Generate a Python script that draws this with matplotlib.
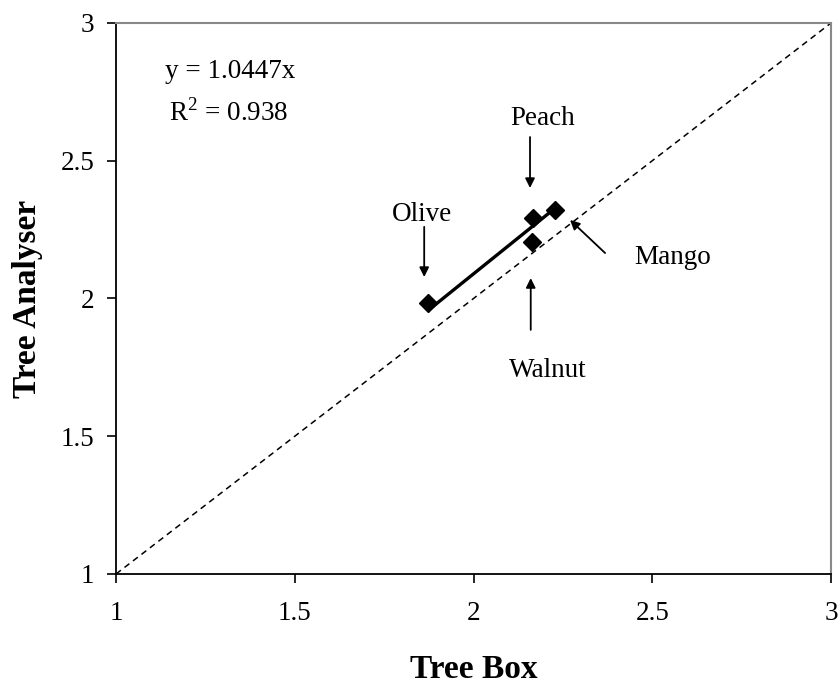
import matplotlib.pyplot as plt
import numpy as np

plt.rcParams['font.family'] = ['Liberation Serif', 'DejaVu Serif']
plt.rcParams['mathtext.fontset'] = 'custom'
plt.rcParams['mathtext.rm'] = 'Liberation Serif'

# data
tree_names = ["Olive", "Peach", "Walnut", "Mango"]
tree_box = [1.874, 2.167, 2.163, 2.228]
tree_analyser = [1.985, 2.293, 2.206, 2.321]
slope = 1.0447
r2 = 0.938

# label positions (text baseline xy, arrow tail, arrow head) in data units
label_xy = {"Olive": (1.856, 2.281), "Peach": (2.192, 2.630),
            "Walnut": (2.208, 1.715), "Mango": (2.558, 2.125)}
arrow_tail = {"Olive": (1.862, 2.260), "Peach": (2.158, 2.586),
              "Walnut": (2.160, 1.886), "Mango": (2.368, 2.165)}
arrow_head = {"Olive": (1.862, 2.078), "Peach": (2.158, 2.401),
              "Walnut": (2.160, 2.074), "Mango": (2.270, 2.285)}

fig = plt.figure(figsize=(8.39, 6.86), dpi=100)
ax = fig.add_axes([0.1383, 0.1633, 0.8522, 0.8032])

ax.plot([1, 3], [1, 3], linestyle=(0, (4, 3)), color="black", lw=1.1)

xs = np.array([min(tree_box), max(tree_box)])
ax.plot(xs, slope * xs, color="black", lw=2.4)
ax.plot(tree_box, tree_analyser, linestyle="none", marker="D", ms=9,
        color="black")

for name in tree_names:
    ax.annotate("", xy=arrow_head[name], xytext=arrow_tail[name],
                arrowprops=dict(arrowstyle="-|>", color="black", lw=1.3,
                                mutation_scale=14, shrinkA=0, shrinkB=0))
    ax.text(*label_xy[name], name, ha="center", va="baseline", fontsize=19.5)

ax.text(1.319, 2.801, f"y = {slope}x", ha="center", va="baseline",
        fontsize=19.5)
ax.text(1.316, 2.644, r"R$^{2}$ = " + f"{r2}", ha="center", va="baseline",
        fontsize=19.5)

ax.set_xlim(1, 3)
ax.set_ylim(1, 3)
ax.set_xticks([1, 1.5, 2, 2.5, 3])
ax.set_yticks([1, 1.5, 2, 2.5, 3])
ax.set_xticklabels(["1", "1.5", "2", "2.5", "3"])
ax.set_yticklabels(["1", "1.5", "2", "2.5", "3"])
ax.tick_params(direction="out", length=6.5, width=1.2, labelsize=19.5)
ax.tick_params(axis="x", pad=13)
ax.tick_params(axis="y", pad=9)

for side in ["top", "right"]:
    ax.spines[side].set_color("#888888")
    ax.spines[side].set_linewidth(1.5)
for side in ["left", "bottom"]:
    ax.spines[side].set_linewidth(1.3)

ax.set_xlabel("Tree Box", fontsize=24, fontweight="bold", labelpad=20)
ax.set_ylabel("Tree Analyser", fontsize=24, fontweight="bold", labelpad=13)

fig.savefig("out.png", dpi=100)
